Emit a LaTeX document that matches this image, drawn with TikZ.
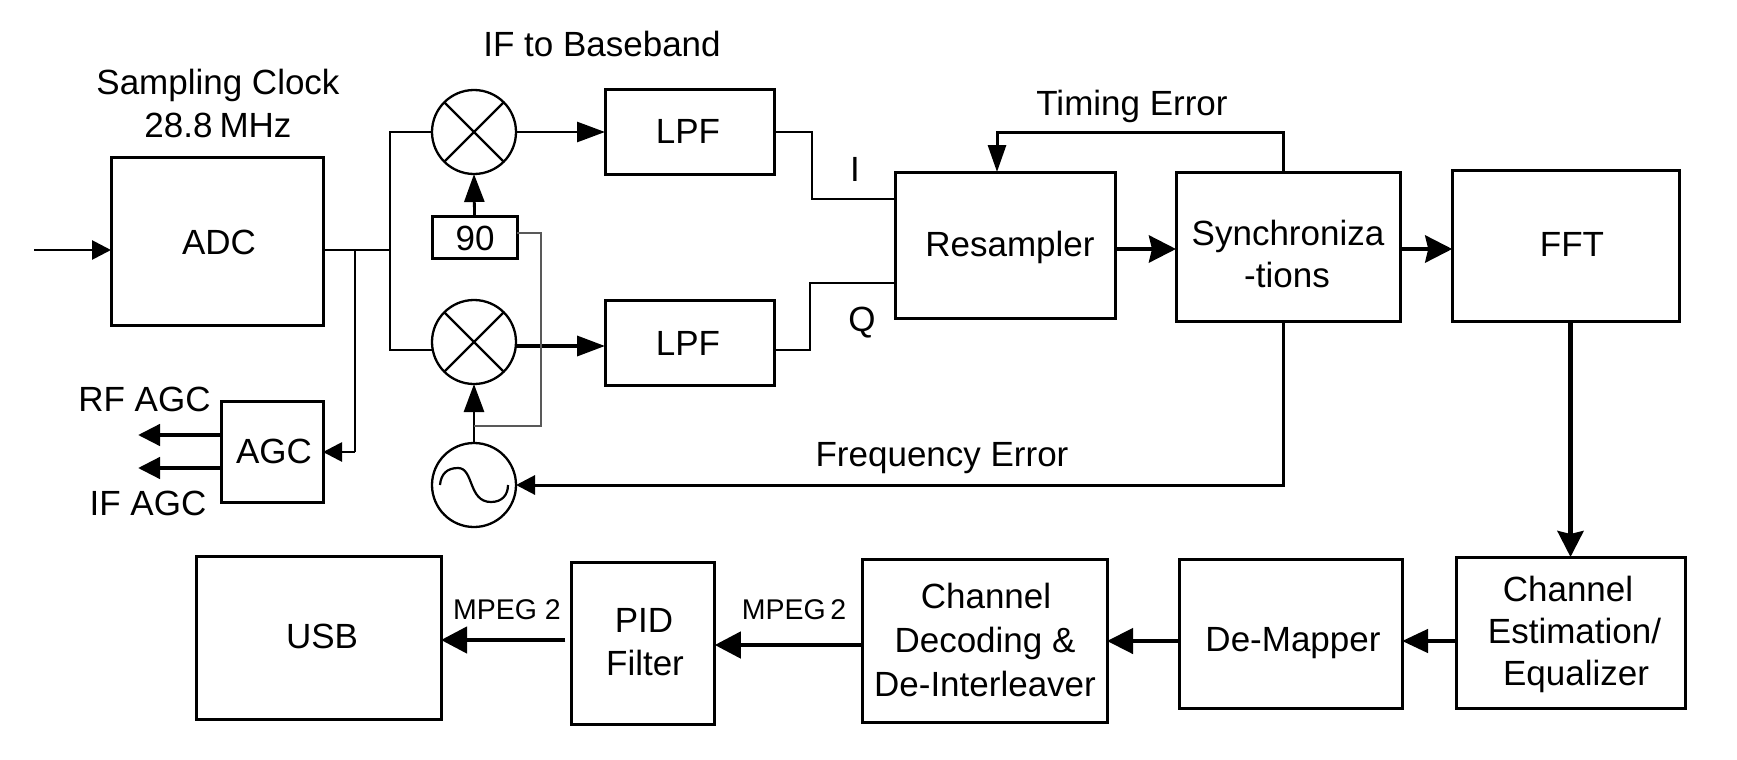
\documentclass[tikz,border=0pt]{standalone}
\usepackage{fontspec}
\setmainfont{Liberation Sans}
\usetikzlibrary{arrows.meta}
\tikzset{
  box/.style={draw=black,line width=3pt,inner sep=0pt,outer sep=0pt,line join=miter},
  mix/.style={draw=black,line width=2.3pt,circle,inner sep=0pt,outer sep=0pt,minimum size=84pt},
  lbl/.style={anchor=base,inner sep=0pt,outer sep=0pt,font=\fontsize{35}{40}\selectfont},
  sml/.style={anchor=base,inner sep=0pt,outer sep=0pt,font=\fontsize{28.5}{34}\selectfont},
  wire/.style={draw=black,line width=2.8pt,line cap=butt,line join=miter},
  thick wire/.style={draw=black,line width=4.5pt,line join=miter},
  thin grey/.style={draw=black!65,line width=1.3pt},
  tipa/.style={-{Triangle[length=19pt,width=19pt]}},
  tipb/.style={-{Triangle[length=28pt,width=20pt]}},
  tipc/.style={-{Stealth[length=27pt,width=27pt,inset=3pt]}},
  tipd/.style={-{Stealth[length=26pt,width=26pt,inset=3pt]}}
}
\begin{document}
\begin{tikzpicture}[x=1pt,y=-1pt]
\useasboundingbox (0,0) rectangle (1737,760);
% boxes
\node[box,minimum width=212pt,minimum height=168pt] (adc) at (217,241) {};
\node[box,minimum width=169pt,minimum height=85pt] (lpfa) at (689.5,131.5) {};
\node[box,minimum width=169pt,minimum height=85pt] (lpfb) at (689.5,342.5) {};
\node[box,minimum width=85pt,minimum height=42pt] (ninety) at (474.5,237) {};
\node[box,minimum width=220pt,minimum height=146pt] (res) at (1005,245) {};
\node[box,minimum width=224pt,minimum height=149pt] (sync) at (1288,246.5) {};
\node[box,minimum width=227.5pt,minimum height=151pt] (fft) at (1566,245.5) {};
\node[box,minimum width=102pt,minimum height=101pt] (agc) at (272,451.5) {};
\node[box,minimum width=229pt,minimum height=151pt] (est) at (1570.5,632.5) {};
\node[box,minimum width=223pt,minimum height=149pt] (dem) at (1290.5,633.5) {};
\node[box,minimum width=245pt,minimum height=163pt] (dec) at (984.5,640.5) {};
\node[box,minimum width=143.5pt,minimum height=162pt] (pid) at (643,643) {};
\node[box,minimum width=245pt,minimum height=163pt] (usb) at (318.5,637.5) {};
% mixers and oscillator
\node[mix] (m1) at (474,132) {};
\node[mix] (m2) at (474,342) {};
\node[mix] (osc) at (474,485) {};
\draw[line width=2.3pt] (m1.45) -- (m1.225) (m1.135) -- (m1.-45);
\draw[line width=2.3pt] (m2.45) -- (m2.225) (m2.135) -- (m2.-45);
\draw[line width=2.2pt] (440,485) .. controls (441,474) and (447,468) .. (458,468)
  .. controls (474,468) and (468,502) .. (491,502)
  .. controls (502,502) and (508,495) .. (508,485);
% junctions
\coordinate (in) at (34,250);
\coordinate (j1) at (355,250);
\coordinate (j2) at (390,250);
\coordinate (a1) at (355,452);
\coordinate (t1) at (390,132);
\coordinate (t2) at (390,350);
\coordinate (i1) at (812,132);
\coordinate (i2) at (812,199);
\coordinate (q1) at (810,350);
\coordinate (q2) at (810,283);
\coordinate (te1) at (1283,132);
\coordinate (te2) at (997,132);
\coordinate (fe) at (1283,485);
\coordinate (g1) at (541,233);
\coordinate (g2) at (541,426);
\coordinate (g3) at (474,426);
\coordinate (rf) at (138,435);
\coordinate (if) at (138,468);
\coordinate (o1) at (0,346);
\coordinate (d1) at (0,641);
\coordinate (p1) at (0,645);
\coordinate (u1) at (0,640);
\coordinate (r1) at (0,249);
% connectors
\draw[wire,tipa] (in) -- (adc.west |- in);
\draw[wire] (adc.east |- j2) -- (j2);
\draw[wire,line width=2pt] (j1) -- (a1);
\draw[wire,tipa] (a1) -- (agc.east |- a1);
\draw[wire] (m1.west) -- (t1) -- (t2) -- (m2.west |- t2);
\draw[wire,tipb] (m1.east) -- (lpfa.west |- m1.east);
\draw[thick wire,line width=3.5pt,tipb] (m2.east |- o1) -- (lpfb.west |- o1);
\draw[wire,tipb] (ninety.north) -- (m1.south);
\draw[wire,tipb] (osc.north) -- (m2.south);
\draw[thin grey] (ninety.east |- g1) -- (g1) -- (g2) -- (g3);
\draw[wire] (lpfa.east |- i1) -- (i1) -- (i2) -- (res.west |- i2);
\draw[wire] (lpfb.east |- q1) -- (q1) -- (q2) -- (res.west |- q2);
\draw[thick wire,tipc] (res.east |- r1) -- (sync.west |- r1);
\draw[thick wire,tipc] (sync.east |- r1) -- (fft.west |- r1);
\draw[wire,line width=3pt,-{Triangle[length=27pt,width=18pt]}] (sync.north -| te1) -- (te1) -- (te2) -- (res.north -| te2);
\draw[wire,line width=3pt,-{Triangle[length=19pt,width=19pt]}] (sync.south -| te1) -- (fe) -- (osc.east);
\draw[thick wire,tipd] (fft.south -| est.north) -- (est.north);
\draw[thick wire,-{Triangle[length=26pt,width=23pt]}] (est.west |- d1) -- (dem.east |- d1);
\draw[thick wire,-{Triangle[length=26pt,width=25pt]}] (dem.west |- d1) -- (dec.east |- d1);
\draw[thick wire,-{Triangle[length=26pt,width=26pt]}] (dec.west |- p1) -- (pid.east |- p1);
\draw[thick wire,shorten <=6pt,-{Triangle[length=26pt,width=26pt]}] (pid.west |- u1) -- (usb.east |- u1);
\draw[thick wire,-{Triangle[length=22pt,width=21pt]}] (agc.west |- rf) -- (rf);
\draw[thick wire,-{Triangle[length=22pt,width=21pt]}] (agc.west |- if) -- (if);
% labels
\node[lbl] (tsc) at (218,94) {Sampling Clock};
\node[lbl] (tmz) at (218,137) {28.8\hspace{.2em}MHz};
\node[lbl] (tif) at (602,57) {IF to Baseband};
\node[lbl] (tadc) at (219,254) {ADC};
\node[lbl] (tla) at (688,143) {LPF};
\node[lbl] (tlb) at (688,355) {LPF};
\node[lbl] (t90) at (475,250) {90};
\node[lbl] (ti) at (855,181) {I};
\node[lbl] (tq) at (862,331) {Q};
\node[lbl] (tres) at (1010,256) {Resampler};
\node[lbl] (tsy) at (1288,245) {Synchroniza};
\node[lbl] (tti) at (1287,287) {-tions};
\node[lbl] (tfft) at (1572,256) {FFT};
\node[lbl] (tte) at (1132,115) {Timing Error};
\node[lbl] (tfe) at (942,466) {Frequency Error};
\node[lbl] (trf) at (144.5,411) {RF AGC};
\node[lbl] (tia) at (148,515) {IF AGC};
\node[lbl] (tagc) at (274,463) {AGC};
\node[lbl] (tusb) at (322,648) {USB};
\node[lbl] (tpid) at (644,632) {PID};
\node[lbl] (tfil) at (645,675) {Filter};
\node[sml] (tm1) at (507,619) {MPEG 2};
\node[sml] (tm2) at (794,619) {MPEG\hspace{.16em}2};
\node[lbl] (te1t) at (1568,601) {Channel};
\node[lbl] (te2t) at (1574.5,643) {Estimation/};
\node[lbl] (te3t) at (1576,685) {Equalizer};
\node[lbl] (tdm) at (1293,651) {De-Mapper};
\node[lbl] (td1) at (986,608) {Channel};
\node[lbl] (td2) at (985,652) {Decoding \&};
\node[lbl] (td3) at (985,696) {De-Interleaver};
\end{tikzpicture}
\end{document}
